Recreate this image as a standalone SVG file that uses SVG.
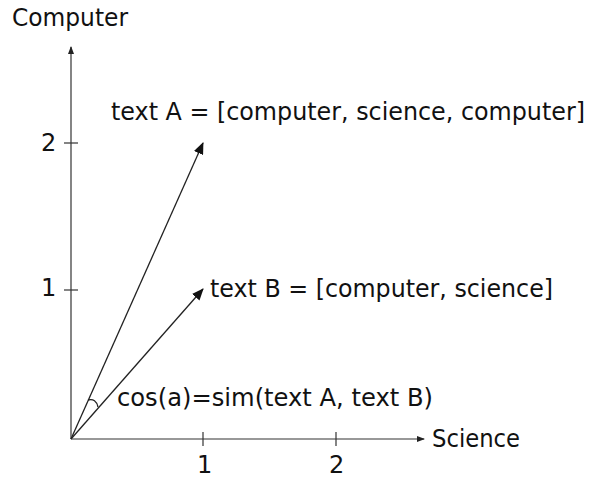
<svg xmlns="http://www.w3.org/2000/svg" width="589" height="480" viewBox="0 0 589 480">
<style>
text{font-family:"DejaVu Sans","Liberation Sans",sans-serif;font-size:24px;fill:#111}
.ax{stroke:#333;stroke-width:1.2;fill:none}
.v{stroke:#222;stroke-width:1.3;fill:none}
</style>
<defs>
<marker id="ah" markerWidth="8" markerHeight="6" refX="7" refY="3" orient="auto" markerUnits="userSpaceOnUse"><path d="M0,0 L8,3 L0,6 z" fill="#222"/></marker>
<marker id="vh" markerWidth="12" markerHeight="10" refX="11" refY="5" orient="auto" markerUnits="userSpaceOnUse"><path d="M0,0 L12,5 L0,10 z" fill="#111"/></marker>
</defs>
<rect width="589" height="480" fill="#fff"/>
<g id="axes">
<line class="ax" x1="71" y1="439" x2="71" y2="47" marker-end="url(#ah)"/>
<line class="ax" x1="71" y1="439" x2="424" y2="439" marker-end="url(#ah)"/>
<line class="ax" x1="64" y1="143" x2="78" y2="143"/>
<line class="ax" x1="64" y1="290" x2="78" y2="290"/>
<line class="ax" x1="203" y1="432" x2="203" y2="446"/>
<line class="ax" x1="336" y1="432" x2="336" y2="446"/>
<text x="12" y="26" font-size="21" textLength="116" lengthAdjust="spacingAndGlyphs">Computer</text>
<text x="432" y="447" font-size="23" textLength="88" lengthAdjust="spacingAndGlyphs">Science</text>
<text x="41" y="151" font-size="21">2</text>
<text x="41" y="296" font-size="21">1</text>
<text x="197" y="473" font-size="22">1</text>
<text x="329" y="473" font-size="22">2</text>
</g>
<g id="connectors">
<line class="v" x1="71" y1="439" x2="203" y2="143" marker-end="url(#vh)"/>
<line class="v" x1="71" y1="439" x2="203" y2="289" marker-end="url(#vh)"/>
<path class="v" d="M88,400 Q96,398 98,407"/>
</g>
<g id="textA"><text x="111" y="120" textLength="474" lengthAdjust="spacingAndGlyphs">text A = [computer, science, computer]</text></g>
<g id="textB"><text x="210" y="297" textLength="343" lengthAdjust="spacingAndGlyphs">text B = [computer, science]</text></g>
<g id="sim"><text x="117" y="406" textLength="316" lengthAdjust="spacingAndGlyphs">cos(a)=sim(text A, text B)</text></g>
</svg>
